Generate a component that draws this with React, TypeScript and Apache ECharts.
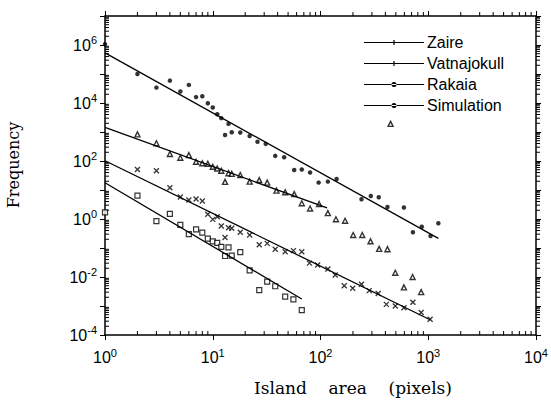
import React, { useEffect, useRef } from "react";
import * as echarts from "echarts";

// ---- data ----
const zaireX = [1, 2, 3, 4, 5, 6, 7, 8, 9, 10, 11, 12, 13, 14, 15, 18, 22, 26, 31, 38, 46, 57, 67, 80, 96, 117, 141, 240, 293, 347, 418, 594, 720, 870, 1050, 1240];
const zaireY = [1.07e6, 1e5, 3.4e4, 5.9e4, 2.5e4, 4.2e4, 1.6e4, 1.7e4, 9800, 7000, 4100, 3000, 790, 1900, 980, 960, 730, 460, 390, 150, 134, 49, 51, 40, 18, 19.5, 24, 4.8, 6.2, 5.6, 2.6, 2.5, 0.35, 0.54, 0.26, 0.71];

const vatnaX = [2, 3, 4, 5, 6, 7, 8, 9, 10, 11, 12, 13, 14, 15, 18, 22, 27, 32, 38, 47, 56, 67, 79, 94, 117, 137, 166, 199, 240, 283, 343, 408, 494, 594, 720, 859, 1040];
const vatnaY = [51, 46, 12, 5.7, 4.5, 4.9, 4.2, 1.45, 0.97, 1.2, 0.57, 0.23, 0.5, 0.48, 0.35, 0.28, 0.13, 0.144, 0.091, 0.074, 0.081, 0.074, 0.03, 0.026, 0.019, 0.0117, 0.005, 0.0041, 0.0056, 0.0034, 0.0027, 0.00114, 0.001, 0.00087, 0.00134, 0.0006, 0.00035];

const rakaiaX = [2, 3, 4, 5, 6, 7, 8, 9, 10, 11, 12, 13, 14, 15, 18, 22, 27, 32, 39, 47, 57, 67, 80, 97, 117, 139, 169, 201, 244, 291, 350, 418, 447, 494, 594, 715, 859];
const rakaiaY = [830, 410, 175, 130, 160, 94, 84, 80, 63, 55, 46, 19, 38, 36, 33, 19.5, 22, 18, 9.5, 8.4, 7.2, 3.5, 2.3, 3.3, 1.6, 0.98, 0.87, 0.28, 0.28, 0.17, 0.093, 0.091, 1900, 0.014, 0.0044, 0.01, 0.003];

const simX = [1, 2, 3, 4, 5, 6, 7, 8, 9, 10, 11, 12, 13, 14, 15, 18, 22, 27, 32, 38, 47, 56, 67];
const simY = [1.7, 6.4, 0.85, 1.5, 0.63, 0.3, 0.44, 0.34, 0.21, 0.17, 0.15, 0.11, 0.053, 0.105, 0.055, 0.072, 0.017, 0.0035, 0.0069, 0.0048, 0.0021, 0.0017, 0.00072];

// fitted power-law lines: [x, y] end points
const zaireFit = [[1, 537000], [1240, 0.214]];
const vatnaFit = [[1, 102], [1050, 0.00033]];
const rakaiaFit = [[1, 1445], [115, 2.4]];
const simFit = [[1, 17.8], [67, 0.00174]];

const seriesNames = ["Zaire", "Vatnajokull", "Rakaia", "Simulation"];
const xMin = 1, xMax = 1e4, yMin = 1e-4, yMax = 1e7;

const zip = (xs: number[], ys: number[]) => xs.map((x, i) => [x, ys[i]]);

const supLabel = (v: number, evenOnly: boolean) => {
  const e = Math.round(Math.log10(v));
  if (evenOnly && (e % 2 !== 0 || e > 6)) return "";
  return "{b|10}{s|" + e + "}";
};

const richLabel = {
  b: { fontSize: 16, fontFamily: "Liberation Sans, Arial, sans-serif", color: "#000" },
  s: { fontSize: 11, fontFamily: "Liberation Sans, Arial, sans-serif", color: "#000", padding: [0, 0, 10, 0] },
};

// legend icons: a line with a small mark in its middle (60 x 12 box)
const iconPlus = "path://M0 5.4H60V6.6H0Z M29.4 3.5H30.6V8.5H29.4Z";
const iconCircle = "path://M0 5.4H60V6.6H0Z M27.5 6A2.5 2.5 0 1 0 32.5 6A2.5 2.5 0 1 0 27.5 6Z";
const legendIcons = [iconPlus, iconPlus, iconCircle, iconCircle];

export default function App() {
  const ref = useRef<HTMLDivElement>(null);
  useEffect(() => {
    if (!ref.current) return;
    const chart = echarts.init(ref.current, null, { renderer: "svg" });
    const axisLine = { show: true, lineStyle: { color: "#000", width: 1.5 } };
    const tick = { show: true, inside: false, length: 5, lineStyle: { color: "#000", width: 1 } };
    const lineStyle = { color: "#000", width: 1.3 };
    const option: any = {
      animation: false,
      backgroundColor: "#fff",
      grid: { left: 105, right: 12, top: 16, bottom: 67 },
      legend: {
        data: seriesNames.map((n, i) => ({ name: n, icon: legendIcons[i] })),
        orient: "vertical",
        left: 364,
        top: 34,
        padding: 0,
        itemWidth: 60,
        itemHeight: 12,
        itemGap: 4,
        itemStyle: { color: "#000", borderWidth: 0 },
        textStyle: { fontSize: 16, lineHeight: 17, fontFamily: "Liberation Sans, Arial, sans-serif", color: "#000", padding: [0, 0, 0, -2] },
        selectedMode: false,
      },
      xAxis: [
        {
          type: "log", logBase: 10, min: xMin, max: xMax, interval: 1, position: "bottom",
          axisLine, axisTick: tick, splitLine: { show: false },
          axisLabel: { formatter: (v: number) => supLabel(v, false), rich: richLabel, margin: 12 },
        },
        {
          type: "log", logBase: 10, min: xMin, max: xMax, interval: 1, position: "top",
          axisLine, axisTick: tick, splitLine: { show: false }, axisLabel: { show: false },
        },
      ],
      yAxis: [
        {
          type: "log", logBase: 10, min: yMin, max: yMax, interval: 1, position: "left",
          axisLine, axisTick: tick, splitLine: { show: false },
          axisLabel: { formatter: (v: number) => supLabel(v, true), rich: richLabel, margin: 8 },
        },
        {
          type: "log", logBase: 10, min: yMin, max: yMax, interval: 1, position: "right",
          axisLine, axisTick: tick, splitLine: { show: false }, axisLabel: { show: false },
        },
      ],
      graphic: [
        {
          type: "text", x: 13, y: 165, rotation: Math.PI / 2,
          style: { text: "Frequency", fontSize: 16, fontFamily: "DejaVu Serif, serif", fill: "#000", align: "center", verticalAlign: "middle" },
        },
        {
          type: "text", x: 353, y: 388,
          style: { text: "Island\u00a0\u00a0\u00a0\u00a0area\u00a0\u00a0\u00a0\u00a0(pixels)", fontSize: 17, fontFamily: "DejaVu Serif, serif", fill: "#000", align: "center", verticalAlign: "middle" },
        },
      ],
      series: [
        { name: "Zaire", type: "line", data: zaireFit, symbol: "none", lineStyle, itemStyle: { color: "#000" }, silent: true },
        { name: "Vatnajokull", type: "line", data: vatnaFit, symbol: "none", lineStyle, itemStyle: { color: "#000" }, silent: true },
        { name: "Rakaia", type: "line", data: rakaiaFit, symbol: "none", lineStyle, itemStyle: { color: "#000" }, silent: true },
        { name: "Simulation", type: "line", data: simFit, symbol: "none", lineStyle, itemStyle: { color: "#000" }, silent: true },
        { name: "Zaire", type: "scatter", data: zip(zaireX, zaireY), symbol: "circle", symbolSize: 4.5, itemStyle: { color: "#000" } },
        { name: "Vatnajokull", type: "scatter", data: zip(vatnaX, vatnaY), symbol: "path://M0 0L10 10M10 0L0 10", symbolSize: 5, itemStyle: { color: "none", borderColor: "#000", borderWidth: 1.3 } },
        { name: "Rakaia", type: "scatter", data: zip(rakaiaX, rakaiaY), symbol: "triangle", symbolSize: 5, itemStyle: { color: "#fff", borderColor: "#000", borderWidth: 1.4 } },
        { name: "Simulation", type: "scatter", data: zip(simX, simY), symbol: "rect", symbolSize: 5, itemStyle: { color: "#fff", borderColor: "#000", borderWidth: 1.2 } },
        {
          type: "custom", silent: true, data: [[1, 1]], z: 1,
          renderItem: (params: any, api: any) => {
            const cs = params.coordSys;
            const left = cs.x, top = cs.y, right = cs.x + cs.width, bottom = cs.y + cs.height;
            const children: any[] = [];
            const st = { stroke: "#000", lineWidth: 1 };
            for (let k = 0; k < 4; k++) {
              for (let m = 2; m <= 9; m++) {
                const px = api.coord([m * Math.pow(10, k), 1])[0];
                children.push({ type: "line", shape: { x1: px, y1: bottom, x2: px, y2: bottom - 4 }, style: st });
                children.push({ type: "line", shape: { x1: px, y1: top, x2: px, y2: top - 4 }, style: st });
              }
            }
            for (let k = -4; k < 7; k++) {
              for (let m = 2; m <= 9; m++) {
                const py = api.coord([1, m * Math.pow(10, k)])[1];
                children.push({ type: "line", shape: { x1: left, y1: py, x2: left + 4, y2: py }, style: st });
                children.push({ type: "line", shape: { x1: right, y1: py, x2: right + 4, y2: py }, style: st });
              }
            }
            return { type: "group", children };
          },
        },
      ],
    };
    chart.setOption(option);
    return () => chart.dispose();
  }, []);
  return <div ref={ref} style={{ position: "fixed", left: 0, top: 0, width: 551, height: 402, background: "#fff" }} />;
}
